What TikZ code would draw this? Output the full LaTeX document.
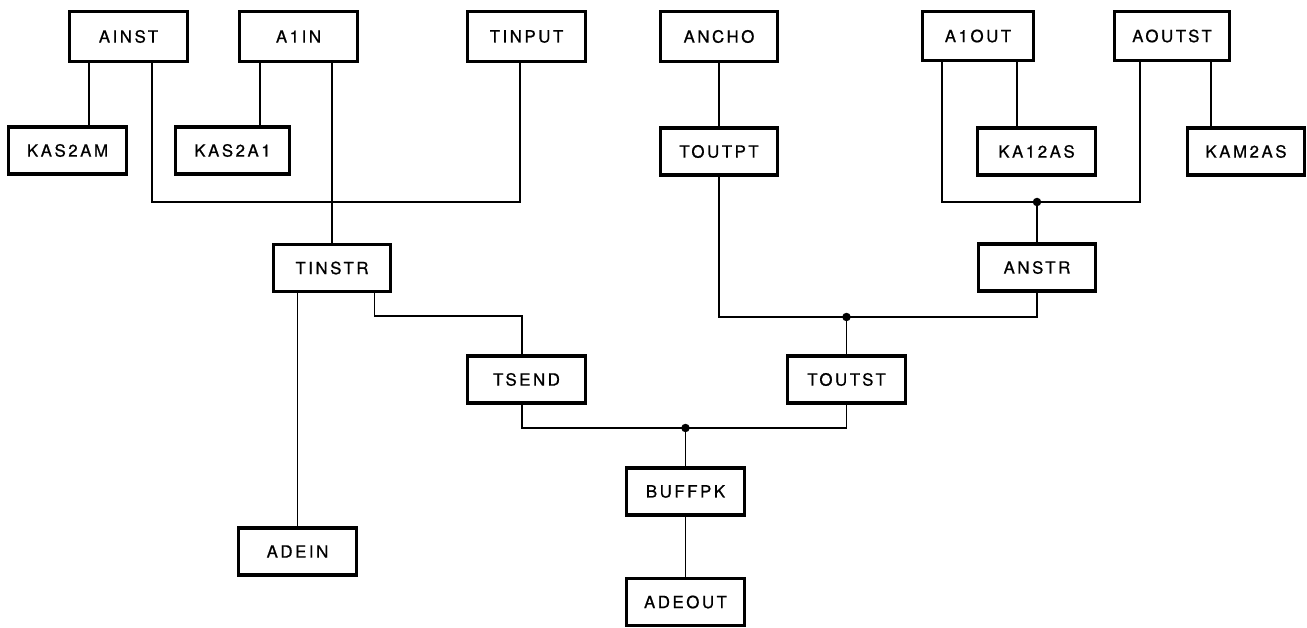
\documentclass[tikz,border=0pt]{standalone}
\usepackage{fontspec}
\usepackage{tikz}
\newfontfamily\labelfont[LetterSpace=15, FakeBold=0.8]{TeX Gyre Heros}

\tikzset{
  box/.style={draw, line width=1.9pt, rectangle, minimum width=2.35cm, minimum height=0.94cm,
    inner sep=0pt, font=\labelfont\fontsize{9.6}{11}\selectfont},
  topbox/.style={box, minimum height=0.99cm},
  wire/.style={line width=1.05pt},
  dot/.style={circle, fill, inner sep=0pt, minimum size=0.17cm}
}

\begin{document}
\begin{tikzpicture}
    \useasboundingbox (0,0) rectangle (26.14,-12.56);

    % Top row
    \node[topbox] (ainst) at (2.57,-0.73) {AINST};
    \node[topbox] (a1in) at (5.97,-0.73) {A1IN};
    \node[topbox] (tinput) at (10.53,-0.73) {TINPUT};
    \node[topbox] (ancho) at (14.38,-0.73) {ANCHO};
    \node[topbox, minimum width=2.21cm] (a1out) at (19.56,-0.72) {A1OUT};
    \node[topbox, minimum width=2.29cm] (aoutst) at (23.44,-0.72) {AOUTST};

    % Second row
    \node[box] (kas2am) at (1.35,-3.01) {KAS2AM};
    \node[box, minimum width=2.28cm] (kas2a1) at (4.65,-3.01) {KAS2A1};
    \node[box] (toutpt) at (14.38,-3.03) {TOUTPT};
    \node[box] (ka12as) at (20.73,-3.03) {KA12AS};
    \node[box] (kam2as) at (24.92,-3.03) {KAM2AS};

    % Middle
    \node[box] (tinstr) at (6.64,-5.36) {TINSTR};
    \node[box] (anstr) at (20.74,-5.35) {ANSTR};
    \node[box] (tsend) at (10.53,-7.59) {TSEND};
    \node[box] (toutst) at (16.93,-7.59) {TOUTST};

    % Bottom
    \node[box] (buffpk) at (13.71,-9.83) {BUFFPK};
    \node[box] (adein) at (5.95,-11.03) {ADEIN};
    \node[box] (adeout) at (13.71,-12.04) {ADEOUT};

    % Bus points
    \coordinate (inbus) at (6.64,-4.04);
    \coordinate (outbus) at (20.74,-4.04);
    \coordinate (midbus) at (16.93,-6.34);
    \coordinate (lowbus) at (13.71,-8.56);

    % Left branch
    \draw[wire] ([xshift=-0.79cm]ainst.south) -- ([xshift=-0.79cm]ainst.south |- kas2am.north);
    \draw[wire] ([xshift=0.47cm]ainst.south) |- (inbus) -| ([xshift=-0.13cm]tinput.south);
    \draw[wire] ([xshift=-0.77cm]a1in.south) -- ([xshift=-0.77cm]a1in.south |- kas2a1.north);
    \draw[wire] ([xshift=0.67cm]a1in.south) -- (tinstr.north);
    \draw[wire] ([xshift=-0.69cm]tinstr.south) -- (adein.north);
    \draw[wire] ([xshift=0.85cm]tinstr.south) -- ++(0,-0.46) -| ([xshift=-0.09cm]tsend.north);

    % Right branch
    \draw[wire] (ancho.south) -- (toutpt.north);
    \draw[wire] ([xshift=0.78cm]a1out.south) -- ([xshift=0.78cm]a1out.south |- ka12as.north);
    \draw[wire] ([xshift=0.78cm]aoutst.south) -- ([xshift=0.78cm]aoutst.south |- kam2as.north);
    \draw[wire] ([xshift=-0.72cm]a1out.south) |- (outbus) -| ([xshift=-0.64cm]aoutst.south);
    \draw[wire] (outbus) -- (anstr.north);
    \draw[wire] (anstr.south) |- (midbus) -| (toutpt.south);
    \draw[wire] (midbus) -- (toutst.north);

    % Output
    \draw[wire] ([xshift=-0.09cm]tsend.south) |- (lowbus) -| (toutst.south);
    \draw[wire] (lowbus) -- (buffpk.north);
    \draw[wire] (buffpk.south) -- (adeout.north);

    % Junction dots
    \node[dot] (outdot) at (outbus) {};
    \node[dot] (middot) at (midbus) {};
    \node[dot] (lowdot) at (lowbus) {};
\end{tikzpicture}
\end{document}
